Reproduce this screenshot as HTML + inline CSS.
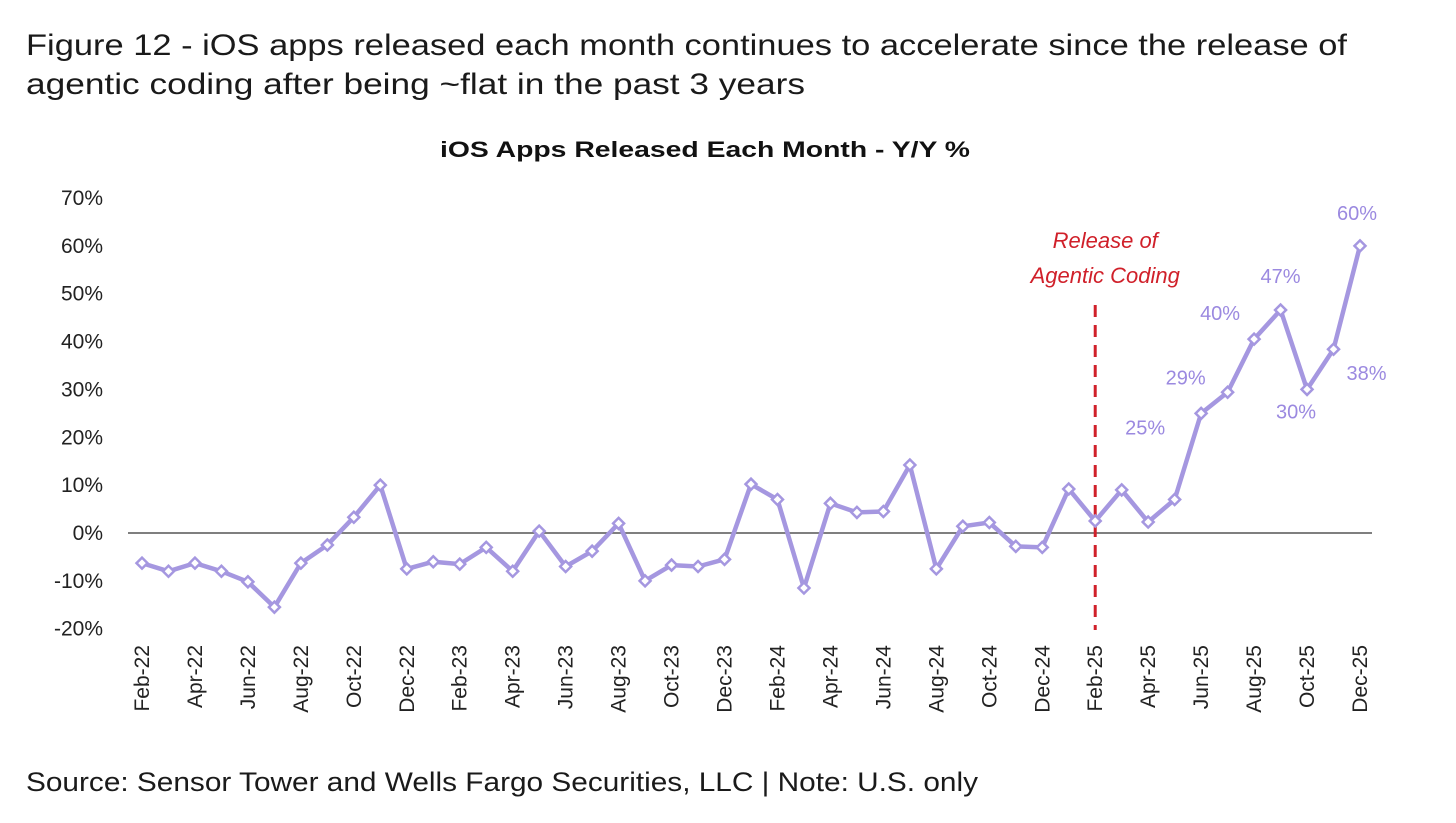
<!DOCTYPE html>
<html><head><meta charset="utf-8"><style>
body{margin:0;background:#fff;width:1456px;height:818px;overflow:hidden;font-family:"Liberation Sans",sans-serif}
</style></head><body>
<svg width="1456" height="818" xmlns="http://www.w3.org/2000/svg">
<text x="26" y="55" font-size="30" fill="#1a1a1a" textLength="1321" lengthAdjust="spacingAndGlyphs">Figure 12 - iOS apps released each month continues to accelerate since the release of</text>
<text x="26" y="94" font-size="30" fill="#1a1a1a" textLength="779" lengthAdjust="spacingAndGlyphs">agentic coding after being ~flat in the past 3 years</text>
<text x="705" y="157" font-size="22" font-weight="bold" text-anchor="middle" fill="#111" textLength="530" lengthAdjust="spacingAndGlyphs">iOS Apps Released Each Month - Y/Y %</text>
<text x="26" y="791" font-size="27" fill="#1a1a1a" textLength="952" lengthAdjust="spacingAndGlyphs">Source: Sensor Tower and Wells Fargo Securities, LLC | Note: U.S. only</text>
<g id="yaxis"></g><g id="xaxis"></g><g id="plot"></g>
</svg>
<script>
const months=["Feb-22","Mar-22","Apr-22","May-22","Jun-22","Jul-22","Aug-22","Sep-22","Oct-22","Nov-22","Dec-22","Jan-23","Feb-23","Mar-23","Apr-23","May-23","Jun-23","Jul-23","Aug-23","Sep-23","Oct-23","Nov-23","Dec-23","Jan-24","Feb-24","Mar-24","Apr-24","May-24","Jun-24","Jul-24","Aug-24","Sep-24","Oct-24","Nov-24","Dec-24","Jan-25","Feb-25","Mar-25","Apr-25","May-25","Jun-25","Jul-25","Aug-25","Sep-25","Oct-25","Nov-25","Dec-25"];
const values=[-6.3,-8,-6.3,-8,-10.2,-15.5,-6.3,-2.5,3.3,10,-7.5,-6,-6.5,-3,-8,0.4,-7,-3.8,2,-10,-6.7,-7,-5.5,10.2,7,-11.5,6.2,4.3,4.5,14.2,-7.5,1.4,2.2,-2.8,-3,9.2,2.5,9,2.3,7,25,29.4,40.5,46.6,30,38.4,60];
const yTicks=[70,60,50,40,30,20,10,0,-10,-20];
const labeled=["Jun-25","Jul-25","Aug-25","Sep-25","Oct-25","Nov-25","Dec-25"];
const labelText=["25%","29%","40%","47%","30%","38%","60%"];
const labelOff=[[-56,14],[-42,-15],[-34,-26],[0,-34],[-11,22],[33,24],[-3,-33]];
const releaseMonth="Feb-25";
const NS="http://www.w3.org/2000/svg";
const x0=142,x1=1360,y0=533,ppu=4.786;
const X=i=>x0+(x1-x0)*i/(months.length-1);
const Y=v=>y0-v*ppu;
function mk(tag,attrs,parent,txt){const e=document.createElementNS(NS,tag);for(const k in attrs)e.setAttribute(k,attrs[k]);if(txt!=null)e.textContent=txt;parent.appendChild(e);return e;}
const ya=document.getElementById('yaxis'),xa=document.getElementById('xaxis'),pl=document.getElementById('plot');
yTicks.forEach(t=>{const e=mk('text',{x:103,y:Y(t)+7,'font-size':21,'text-anchor':'end',fill:'#222'},ya,t+'%');

});
const zl=mk('line',{x1:128,x2:1372,y1:Y(0),y2:Y(0),stroke:'#555','stroke-width':1.5},ya);


months.forEach((m,i)=>{if(i%2)return;const x=X(i)+7,y=645;const e=mk('text',{x:x,y:y,'font-size':21,'text-anchor':'end',fill:'#222',transform:`rotate(-90 ${x} ${y})`},xa,m);

});
const ri=months.indexOf(releaseMonth);
const rl=mk('line',{x1:X(ri),x2:X(ri),y1:305,y2:630,stroke:'#d0202a','stroke-width':3,'stroke-dasharray':'12,8'},pl);


const rt1=mk('text',{x:X(ri)+10,y:248,'font-size':22,'font-style':'italic','text-anchor':'middle',fill:'#d0202a'},pl,'Release of');


const rt2=mk('text',{x:X(ri)+10,y:283,'font-size':22,'font-style':'italic','text-anchor':'middle',fill:'#d0202a'},pl,'Agentic Coding');


const ln=mk('polyline',{points:values.map((v,i)=>X(i)+','+Y(v)).join(' '),fill:'none',stroke:'#a597e0','stroke-width':4.5,'stroke-linejoin':'round'},pl);


values.forEach((v,i)=>{const x=X(i),y=Y(v),d=5.5;const p=mk('polygon',{points:`${x},${y-d} ${x+d},${y} ${x},${y+d} ${x-d},${y}`,fill:'#fff',stroke:'#a597e0','stroke-width':2.5},pl);

});
labeled.forEach((m,k)=>{const i=months.indexOf(m);const t=mk('text',{x:X(i)+labelOff[k][0],y:Y(values[i])+labelOff[k][1]+7,'font-size':20,'text-anchor':'middle',fill:'#9b89e0'},pl,labelText[k]);

});
</script>
</body></html>
